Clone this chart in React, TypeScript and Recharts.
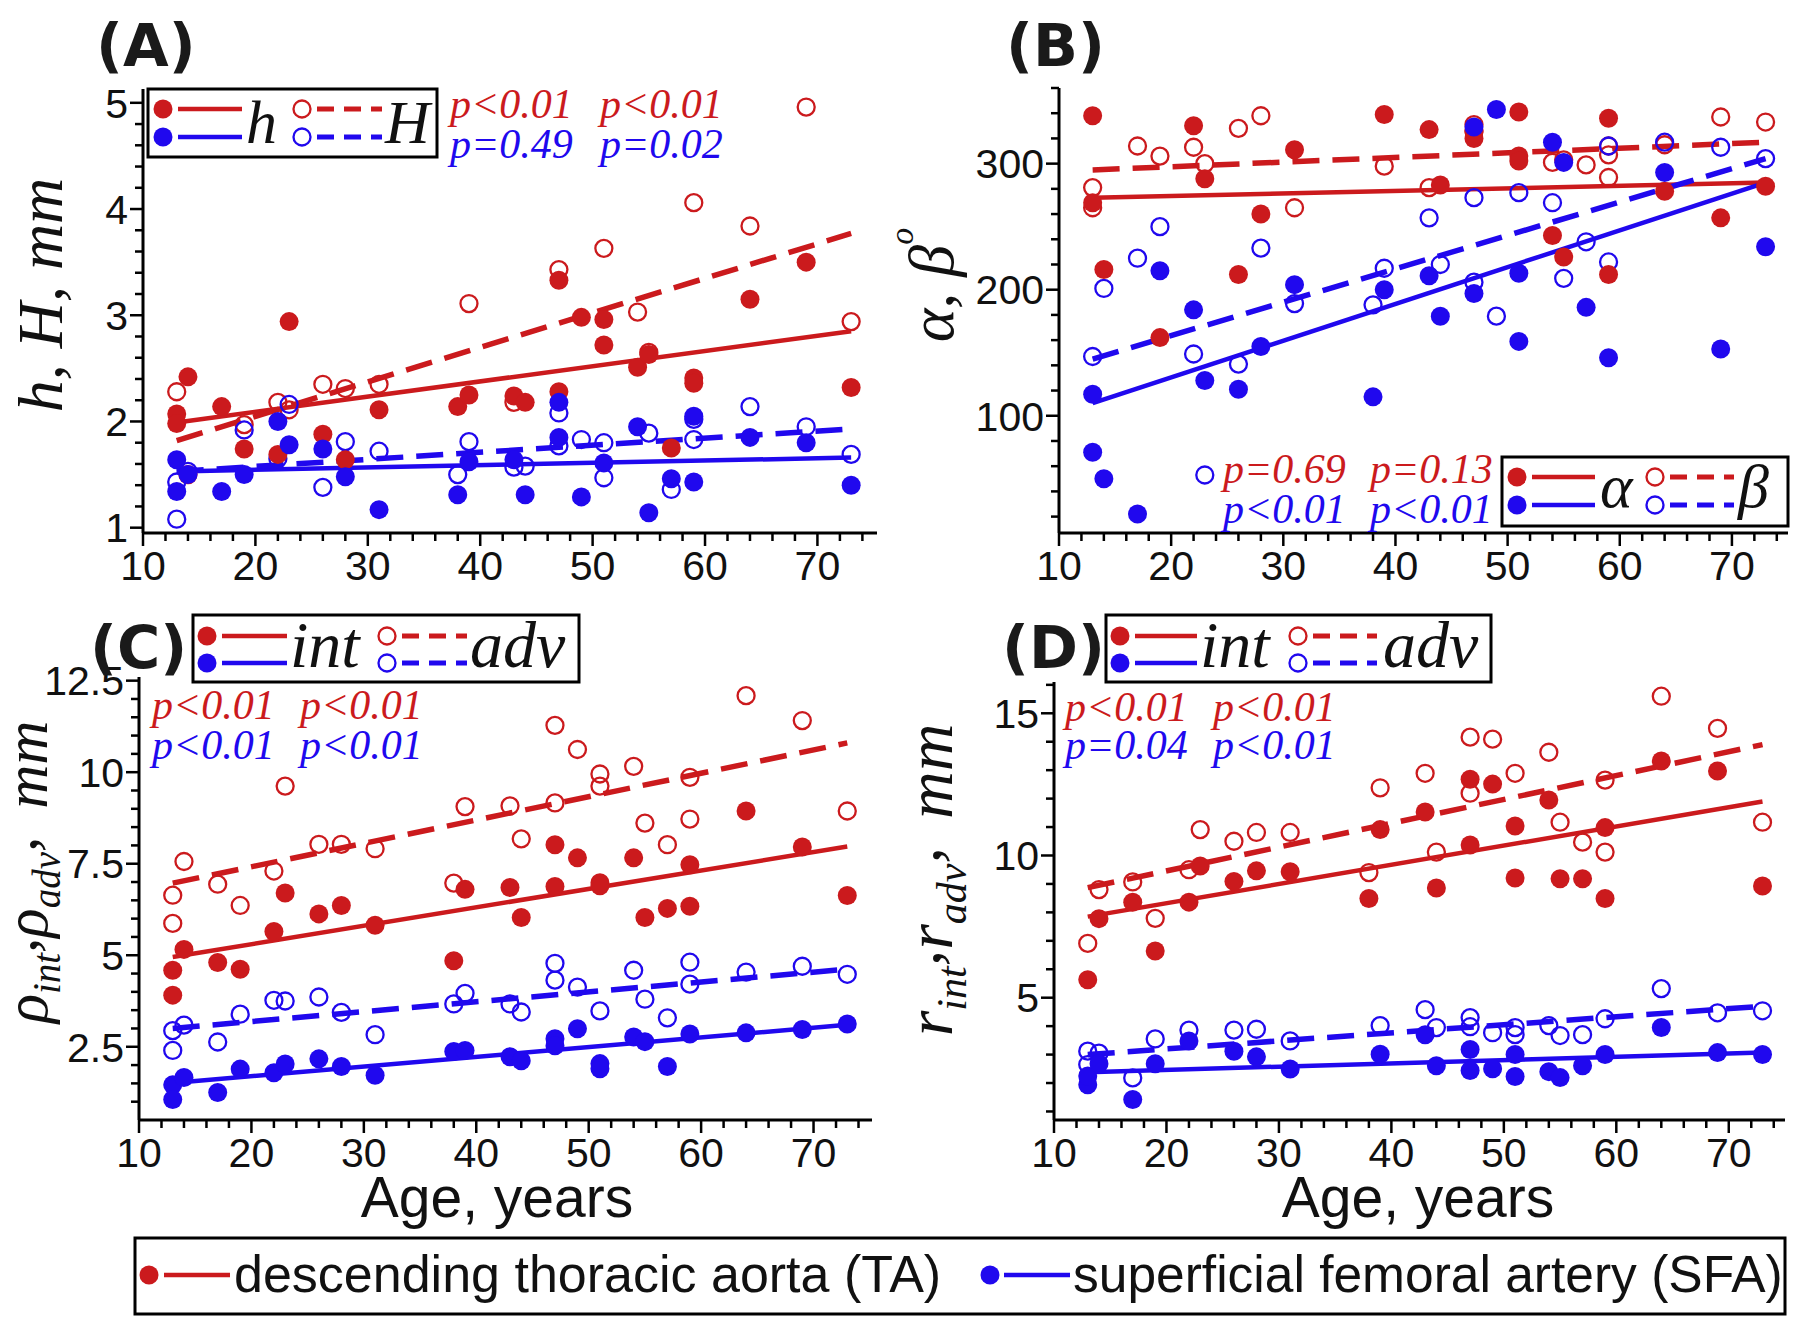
import React from 'react';
import { ScatterChart, Scatter, XAxis, YAxis, ReferenceLine } from 'recharts';

const RED = '#cb1a1d';
const BLUE = '#2008ee';
const SANS = 'Liberation Sans, Arial, sans-serif';
const SERIF = 'Liberation Serif, Times New Roman, serif';

// ---------- ticks ----------
const X_TICKS = [10,12,14,16,18,20,22,24,26,28,30,32,34,36,38,40,42,44,46,48,50,52,54,56,58,60,62,64,66,68,70,72,74];
const X_MAJOR = [10,20,30,40,50,60,70];
const A_Y_TICKS = [1,1.2,1.4,1.6,1.8,2,2.2,2.4,2.6,2.8,3,3.2,3.4,3.6,3.8,4,4.2,4.4,4.6,4.8,5];
const A_Y_MAJOR = [1,2,3,4,5];
const B_Y_TICKS = [20,40,60,80,100,120,140,160,180,200,220,240,260,280,300,320,340,360];
const B_Y_MAJOR = [100,200,300];
const C_Y_TICKS = [1,1.5,2,2.5,3,3.5,4,4.5,5,5.5,6,6.5,7,7.5,8,8.5,9,9.5,10,10.5,11,11.5,12,12.5];
const C_Y_MAJOR = [2.5,5,7.5,10,12.5];
const D_Y_TICKS = [1,2,3,4,5,6,7,8,9,10,11,12,13,14,15,16];
const D_Y_MAJOR = [5,10,15];

// ---------- Panel A: h (filled), H (open) ----------
const A_hTA: [number, number][] = [[13,2.07],[13,1.98],[14,2.42],[17,2.14],[19,1.74],[22,1.69],[23,2.94],[26,1.88],[28,1.64],[31,2.11],[38,2.14],[39,2.25],[43,2.24],[44,2.18],[47,3.33],[47,2.28],[49,2.98],[51,2.96],[51,2.72],[54,2.51],[55,2.63],[57,1.75],[59,2.41],[59,2.36],[64,3.15],[69,3.5],[73,2.32]];
const A_HTA: [number, number][] = [[13,2.28],[14,1.5],[19,1.97],[22,2.18],[23,2.11],[26,2.35],[28,2.31],[31,2.35],[39,3.11],[43,2.18],[47,3.43],[51,3.63],[54,3.03],[55,2.65],[59,4.06],[64,3.84],[69,4.96],[73,2.94]];
const A_hSFA: [number, number][] = [[13,1.64],[13,1.34],[14,1.5],[17,1.34],[19,1.5],[22,2.0],[23,1.78],[26,1.74],[28,1.48],[31,1.17],[38,1.31],[39,1.62],[43,1.64],[44,1.31],[47,2.18],[47,1.85],[49,1.29],[51,1.61],[54,1.95],[55,1.14],[57,1.46],[59,2.05],[59,1.43],[64,1.85],[69,1.8],[73,1.4]];
const A_HSFA: [number, number][] = [[13,1.43],[13,1.08],[14,1.53],[19,1.92],[22,1.65],[23,2.16],[26,1.38],[28,1.81],[31,1.72],[38,1.5],[39,1.81],[43,1.57],[44,1.58],[47,2.08],[47,1.77],[49,1.83],[51,1.8],[51,1.47],[55,1.89],[57,1.36],[59,2.02],[59,1.83],[64,2.14],[69,1.95],[73,1.69]];
const A_FIT_hTA = [1.99, 2.85];
const A_FIT_HTA = [1.82, 3.77];
const A_FIT_hSFA = [1.53, 1.66];
const A_FIT_HSFA = [1.53, 1.93];

// ---------- Panel B: alpha (filled), beta (open) ----------
const B_aTA: [number, number][] = [[13,338],[13,269],[14,216],[19,162],[22,330],[23,288],[26,212],[28,260],[31,311],[39,339],[43,327],[44,283],[47,325],[47,320],[51,341],[51,306],[51,302],[54,243],[55,226],[59,336],[59,212],[64,278],[69,257],[73,282]];
const B_bTA: [number, number][] = [[13,281],[13,265],[17,314],[19,306],[22,313],[23,300],[26,328],[28,338],[31,265],[39,298],[43,281],[47,331],[47,326],[54,301],[55,303],[57,299],[59,314],[59,307],[59,289],[64,315],[69,337],[73,333]];
const B_aSFA: [number, number][] = [[13,117],[13,71],[14,50],[17,22],[19,215],[22,184],[23,128],[26,121],[28,155],[31,204],[38,115],[39,200],[43,211],[44,179],[47,197],[47,329],[49,343],[51,213],[51,159],[54,317],[55,301],[57,186],[59,146],[64,293],[69,153],[73,234]];
const B_bSFA: [number, number][] = [[13,147],[14,201],[17,225],[19,250],[22,149],[23,53],[26,141],[28,233],[31,189],[38,188],[39,217],[43,257],[44,220],[47,273],[47,206],[49,179],[51,277],[54,269],[55,209],[57,238],[59,314],[59,222],[64,317],[69,313],[73,304]];
const B_FIT_aTA = [273, 285];
const B_FIT_bTA = [295, 317];
const B_FIT_aSFA = [110, 285];
const B_FIT_bSFA = [145, 304];

// ---------- Panel C: rho int (filled), rho adv (open) ----------
const C_iTA: [number, number][] = [[13,4.59],[13,3.91],[14,5.16],[17,4.8],[19,4.62],[22,5.65],[23,6.7],[26,6.13],[28,6.36],[31,5.82],[38,4.85],[39,6.8],[43,6.85],[44,6.03],[47,8.02],[47,6.88],[49,7.66],[51,6.98],[51,6.9],[54,7.66],[55,6.03],[57,6.28],[59,7.47],[59,6.34],[64,8.94],[69,7.96],[73,6.63]];
const C_aTA: [number, number][] = [[13,6.64],[13,5.87],[14,7.56],[17,6.94],[19,6.36],[22,7.3],[23,9.62],[26,8.03],[28,8.03],[31,7.91],[38,6.97],[39,9.06],[43,9.08],[44,8.18],[47,11.28],[47,9.16],[49,10.62],[51,9.95],[51,9.62],[54,10.16],[55,8.61],[57,8.02],[59,9.86],[59,8.72],[64,12.09],[69,11.41],[73,8.94]];
const C_iSFA: [number, number][] = [[13,1.46],[13,1.06],[14,1.66],[17,1.25],[19,1.89],[22,1.79],[23,2.03],[26,2.17],[28,1.96],[31,1.72],[38,2.37],[39,2.4],[43,2.23],[44,2.12],[47,2.72],[47,2.53],[49,2.99],[51,2.04],[51,1.9],[54,2.77],[55,2.64],[57,1.96],[59,2.85],[64,2.88],[69,2.97],[73,3.12]];
const C_aSFA: [number, number][] = [[13,2.94],[13,2.4],[14,3.09],[17,2.63],[19,3.39],[22,3.77],[23,3.75],[26,3.86],[28,3.44],[31,2.83],[38,3.67],[39,3.96],[43,3.67],[44,3.45],[47,4.78],[47,4.32],[49,4.13],[51,3.48],[54,4.59],[55,3.8],[57,3.29],[59,4.81],[59,4.21],[64,4.54],[69,4.7],[73,4.48]];
const C_FIT_iTA = [4.95, 7.97];
const C_FIT_aTA = [6.97, 10.8];
const C_FIT_iSFA = [1.51, 3.1];
const C_FIT_aSFA = [3.0, 4.62];

// ---------- Panel D: r int (filled), r adv (open) ----------
const D_iTA: [number, number][] = [[13,5.63],[14,7.78],[17,8.36],[19,6.64],[22,8.36],[23,9.63],[26,9.09],[28,9.46],[31,9.43],[38,8.49],[39,10.91],[43,11.53],[44,8.86],[47,12.68],[47,10.37],[49,12.51],[51,11.04],[51,9.21],[54,11.95],[55,9.18],[57,9.18],[59,10.98],[59,8.49],[64,13.32],[69,12.97],[73,8.93]];
const D_aTA: [number, number][] = [[13,6.91],[14,8.8],[17,9.07],[19,7.79],[22,9.5],[23,10.91],[26,10.5],[28,10.81],[31,10.81],[38,9.4],[39,12.38],[43,12.89],[44,10.12],[47,14.16],[47,12.19],[49,14.09],[51,12.89],[54,13.63],[55,11.17],[57,10.47],[59,12.65],[59,10.12],[64,15.6],[69,14.47],[73,11.17]];
const D_iSFA: [number, number][] = [[13,1.94],[13,2.25],[14,2.68],[17,1.42],[19,2.68],[22,3.48],[26,3.12],[28,2.92],[31,2.49],[39,3.01],[43,3.7],[44,2.61],[47,3.18],[47,2.44],[49,2.5],[51,3.0],[51,2.23],[54,2.4],[55,2.19],[57,2.61],[59,3.0],[64,3.95],[69,3.07],[73,3.0]];
const D_aSFA: [number, number][] = [[13,3.12],[13,2.65],[14,3.05],[17,2.18],[19,3.55],[22,3.86],[26,3.86],[28,3.89],[31,3.48],[39,4.02],[43,4.58],[44,3.95],[47,4.3],[47,3.98],[49,3.77],[51,3.95],[51,3.7],[54,4.02],[55,3.67],[57,3.7],[59,4.26],[64,5.32],[69,4.47],[73,4.54]];
const D_FIT_iTA = [7.85, 11.9];
const D_FIT_aTA = [8.87, 13.9];
const D_FIT_iSFA = [2.38, 3.07];
const D_FIT_aSFA = [3.0, 4.7];

const FIT_AGES = [13, 73];

type Pt = [number, number];
type Series = { data: Pt[]; color: string; open: boolean };
type Fit = { y: number[]; color: string; dashed: boolean };

const XTick = (props: any) => {
  const { x, y, payload, major } = props;
  const isMajor = major.includes(payload.value);
  return (
    <g>
      <line x1={x} x2={x} y1={y} y2={y + (isMajor ? 13 : 8)} stroke="#000" strokeWidth={2.5} />
      {isMajor && (
        <text x={x} y={y + 47} textAnchor="middle" fontSize={41} fontFamily={SANS} fill="#111">
          {payload.value}
        </text>
      )}
    </g>
  );
};

const YTick = (props: any) => {
  const { x, y, payload, major } = props;
  const isMajor = major.includes(payload.value);
  return (
    <g>
      <line x1={x} x2={x - (isMajor ? 13 : 8)} y1={y} y2={y} stroke="#000" strokeWidth={2.5} />
      {isMajor && (
        <text x={x - 15} y={y} dy="0.36em" textAnchor="end" fontSize={41} fontFamily={SANS} fill="#111">
          {payload.value}
        </text>
      )}
    </g>
  );
};

const makeShape = (color: string, open: boolean) => (p: any) =>
  open ? (
    <circle cx={p.cx} cy={p.cy} r={8.5} fill="none" stroke={color} strokeWidth={2.3} />
  ) : (
    <circle cx={p.cx} cy={p.cy} r={9.5} fill={color} />
  );

function Panel(props: {
  box: { left: number; top: number; right: number; bottom: number };
  xDomain: [number, number];
  yDomain: [number, number];
  yTicks: number[];
  yMajor: number[];
  series: Series[];
  fits: Fit[];
}) {
  const { box, xDomain, yDomain, yTicks, yMajor, series, fits } = props;
  const ML = 140, MT = 30, MR = 10, MB = 70;
  const W = box.right - box.left;
  const H = box.bottom - box.top;
  return (
    <div style={{ position: 'absolute', left: box.left - ML, top: box.top - MT }}>
      <ScatterChart width={W + ML + MR} height={H + MT + MB} margin={{ top: MT, right: MR, bottom: 0, left: 0 }}>
        <XAxis
          type="number"
          dataKey="x"
          domain={xDomain}
          ticks={X_TICKS}
          interval={0}
          tickSize={0}
          tickMargin={0}
          tickLine={false}
          height={MB}
          axisLine={{ stroke: '#000', strokeWidth: 3 }}
          tick={(tp: any) => <XTick {...tp} major={X_MAJOR} />}
        />
        <YAxis
          type="number"
          dataKey="y"
          domain={yDomain}
          ticks={yTicks}
          interval={0}
          tickSize={0}
          tickMargin={0}
          tickLine={false}
          width={ML}
          axisLine={{ stroke: '#000', strokeWidth: 3 }}
          tick={(tp: any) => <YTick {...tp} major={yMajor} />}
        />
        {fits.map((f, i) => (
          <ReferenceLine
            key={'f' + i}
            segment={[{ x: FIT_AGES[0], y: f.y[0] }, { x: FIT_AGES[1], y: f.y[1] }]}
            stroke={f.color}
            strokeWidth={f.dashed ? 5.5 : 4.5}
            strokeDasharray={f.dashed ? '27 13' : undefined}
            ifOverflow="visible"
          />
        ))}
        {series.map((s, i) => (
          <Scatter
            key={'s' + i}
            data={s.data.map(([x, y]) => ({ x, y }))}
            shape={makeShape(s.color, s.open)}
            isAnimationActive={false}
          />
        ))}
      </ScatterChart>
    </div>
  );
}

function BoxLegend(p: {
  bx: number; by: number; bw: number; bh: number; r1: number; r2: number;
  dotX: number; l1: [number, number]; t1x: number; openX: number; l2: [number, number]; t2x: number;
  base: number; fs: number; t1: string; t2: string;
}) {
  const rows: [number, string][] = [[p.r1, RED], [p.r2, BLUE]];
  return (
    <g>
      <rect x={p.bx} y={p.by} width={p.bw} height={p.bh} fill="#fff" stroke="#000" strokeWidth={3} />
      {rows.map(([ry, c]) => (
        <g key={c}>
          <circle cx={p.dotX} cy={ry} r={9.5} fill={c} />
          <line x1={p.l1[0]} x2={p.l1[1]} y1={ry} y2={ry} stroke={c} strokeWidth={4.5} />
          <circle cx={p.openX} cy={ry} r={8.5} fill="none" stroke={c} strokeWidth={2.3} />
          <line x1={p.l2[0]} x2={p.l2[1]} y1={ry} y2={ry} stroke={c} strokeWidth={5} strokeDasharray="17 10" />
        </g>
      ))}
      <text x={p.t1x} y={p.base} fontSize={p.fs} fontStyle="italic" fontFamily={SERIF} fill="#111">{p.t1}</text>
      <text x={p.t2x} y={p.base} fontSize={p.fs} fontStyle="italic" fontFamily={SERIF} fill="#111">{p.t2}</text>
    </g>
  );
}

const PText = ({ x, y, c, t }: { x: number; y: number; c: string; t: string }) => (
  <text x={x} y={y} fontSize={42} fontStyle="italic" fontFamily={SERIF} fill={c}>{t}</text>
);

const LETTER = 'DejaVu Sans, Liberation Sans, sans-serif';

export default function App() {
  return (
    <div style={{ position: 'absolute', left: 0, top: 0, width: 1800, height: 1324, background: '#fff', overflow: 'hidden' }}>
      <Panel
        box={{ left: 143, top: 89, right: 877, bottom: 533 }}
        xDomain={[10, 75.3]}
        yDomain={[0.95, 5.13]}
        yTicks={A_Y_TICKS}
        yMajor={A_Y_MAJOR}
        fits={[
          { y: A_FIT_hTA, color: RED, dashed: false },
          { y: A_FIT_HTA, color: RED, dashed: true },
          { y: A_FIT_hSFA, color: BLUE, dashed: false },
          { y: A_FIT_HSFA, color: BLUE, dashed: true },
        ]}
        series={[
          { data: A_HTA, color: RED, open: true },
          { data: A_HSFA, color: BLUE, open: true },
          { data: A_hTA, color: RED, open: false },
          { data: A_hSFA, color: BLUE, open: false },
        ]}
      />
      <Panel
        box={{ left: 1059, top: 88, right: 1788, bottom: 533 }}
        xDomain={[10, 75]}
        yDomain={[7, 360]}
        yTicks={B_Y_TICKS}
        yMajor={B_Y_MAJOR}
        fits={[
          { y: B_FIT_aTA, color: RED, dashed: false },
          { y: B_FIT_bTA, color: RED, dashed: true },
          { y: B_FIT_aSFA, color: BLUE, dashed: false },
          { y: B_FIT_bSFA, color: BLUE, dashed: true },
        ]}
        series={[
          { data: B_bTA, color: RED, open: true },
          { data: B_bSFA, color: BLUE, open: true },
          { data: B_aTA, color: RED, open: false },
          { data: B_aSFA, color: BLUE, open: false },
        ]}
      />
      <Panel
        box={{ left: 139, top: 677, right: 872, bottom: 1120 }}
        xDomain={[10, 75.2]}
        yDomain={[0.5, 12.6]}
        yTicks={C_Y_TICKS}
        yMajor={C_Y_MAJOR}
        fits={[
          { y: C_FIT_iTA, color: RED, dashed: false },
          { y: C_FIT_aTA, color: RED, dashed: true },
          { y: C_FIT_iSFA, color: BLUE, dashed: false },
          { y: C_FIT_aSFA, color: BLUE, dashed: true },
        ]}
        series={[
          { data: C_aTA, color: RED, open: true },
          { data: C_aSFA, color: BLUE, open: true },
          { data: C_iTA, color: RED, open: false },
          { data: C_iSFA, color: BLUE, open: false },
        ]}
      />
      <Panel
        box={{ left: 1054, top: 682, right: 1785, bottom: 1120 }}
        xDomain={[10, 75]}
        yDomain={[0.7, 16.1]}
        yTicks={D_Y_TICKS}
        yMajor={D_Y_MAJOR}
        fits={[
          { y: D_FIT_iTA, color: RED, dashed: false },
          { y: D_FIT_aTA, color: RED, dashed: true },
          { y: D_FIT_iSFA, color: BLUE, dashed: false },
          { y: D_FIT_aSFA, color: BLUE, dashed: true },
        ]}
        series={[
          { data: D_aTA, color: RED, open: true },
          { data: D_aSFA, color: BLUE, open: true },
          { data: D_iTA, color: RED, open: false },
          { data: D_iSFA, color: BLUE, open: false },
        ]}
      />

      <svg width={1800} height={1324} style={{ position: 'absolute', left: 0, top: 0, pointerEvents: 'none' }}>
        {/* panel letters */}
        <text x={96} y={66} fontSize={59} fontWeight="bold" fontFamily={LETTER} fill="#1a1a1a">(A)</text>
        <text x={1006} y={66} fontSize={59} fontWeight="bold" fontFamily={LETTER} fill="#1a1a1a">(B)</text>
        <text x={90} y={668} fontSize={59} fontWeight="bold" fontFamily={LETTER} fill="#1a1a1a">(C)</text>
        <text x={1002} y={668} fontSize={59} fontWeight="bold" fontFamily={LETTER} fill="#1a1a1a">(D)</text>

        {/* y axis titles */}
        <text transform="translate(62,295) rotate(-90)" textAnchor="middle" fontSize={64} fontStyle="italic" fontFamily={SERIF} fill="#111">h, H, mm</text>
        <text transform="translate(953,285) rotate(-90)" textAnchor="middle" fontSize={64} fontStyle="italic" fontFamily={SERIF} fill="#111">
          α, β<tspan dy={-40} fontSize={34}>o</tspan>
        </text>
        <text transform="translate(47,872) rotate(-90)" textAnchor="middle" fontSize={61} fontStyle="italic" fontFamily={SERIF} fill="#111">
          ρ<tspan fontSize={39} dy={13}>int</tspan><tspan dy={-24}>,</tspan><tspan dy={11}>ρ</tspan><tspan fontSize={39} dy={13}>adv</tspan><tspan dy={-24}>,</tspan><tspan dy={11} dx={28}>mm</tspan>
        </text>
        <text transform="translate(952,880) rotate(-90)" textAnchor="middle" fontSize={66} fontStyle="italic" fontFamily={SERIF} fill="#111">
          r<tspan fontSize={42} dy={14}>int</tspan><tspan dy={-26}>,</tspan><tspan dy={12}>r</tspan><tspan fontSize={42} dy={14}>adv</tspan><tspan dy={-26}>,</tspan><tspan dy={12} dx={28}>mm</tspan>
        </text>

        {/* x axis titles */}
        <text x={497} y={1217} textAnchor="middle" fontSize={57} fontFamily={SANS} fill="#111">Age, years</text>
        <text x={1418} y={1217} textAnchor="middle" fontSize={57} fontFamily={SANS} fill="#111">Age, years</text>

        {/* panel legends */}
        <BoxLegend bx={148} by={89} bw={289} bh={68} r1={109} r2={137} dotX={163} l1={[178, 242]} t1x={246}
          openX={302} l2={[317, 382]} t2x={385} base={143} fs={62} t1="h" t2="H" />
        <BoxLegend bx={1502} by={457} bw={286} bh={69} r1={477} r2={505} dotX={1517} l1={[1532, 1595]} t1x={1600}
          openX={1655} l2={[1670, 1734]} t2x={1738} base={507} fs={62} t1="α" t2="β" />
        <BoxLegend bx={193} by={615} bw={386} bh={67} r1={636} r2={663} dotX={207} l1={[222, 287]} t1x={290}
          openX={387} l2={[402, 467]} t2x={470} base={667} fs={66} t1="int" t2="adv" />
        <BoxLegend bx={1106} by={615} bw={385} bh={67} r1={636} r2={663} dotX={1120} l1={[1135, 1197]} t1x={1200}
          openX={1298} l2={[1313, 1377]} t2x={1383} base={667} fs={66} t1="int" t2="adv" />

        {/* p values */}
        <PText x={450} y={118} c={RED} t="p<0.01" />
        <PText x={600} y={118} c={RED} t="p<0.01" />
        <PText x={450} y={158} c={BLUE} t="p=0.49" />
        <PText x={600} y={158} c={BLUE} t="p=0.02" />

        <PText x={1223} y={483} c={RED} t="p=0.69" />
        <PText x={1370} y={483} c={RED} t="p=0.13" />
        <PText x={1223} y={523} c={BLUE} t="p<0.01" />
        <PText x={1370} y={523} c={BLUE} t="p<0.01" />

        <PText x={152} y={719} c={RED} t="p<0.01" />
        <PText x={300} y={719} c={RED} t="p<0.01" />
        <PText x={152} y={759} c={BLUE} t="p<0.01" />
        <PText x={300} y={759} c={BLUE} t="p<0.01" />

        <PText x={1065} y={721} c={RED} t="p<0.01" />
        <PText x={1213} y={721} c={RED} t="p<0.01" />
        <PText x={1065} y={759} c={BLUE} t="p=0.04" />
        <PText x={1213} y={759} c={BLUE} t="p<0.01" />

        {/* bottom legend */}
        <rect x={135} y={1238} width={1650} height={76} fill="#fff" stroke="#000" strokeWidth={3} />
        <circle cx={149} cy={1275} r={9.5} fill={RED} />
        <line x1={164} x2={230} y1={1275} y2={1275} stroke={RED} strokeWidth={4.5} />
        <text x={234} y={1292} fontSize={52} fontFamily={SANS} fill="#111">descending thoracic aorta (TA)</text>
        <circle cx={990} cy={1275} r={9.5} fill={BLUE} />
        <line x1={1004} x2={1070} y1={1275} y2={1275} stroke={BLUE} strokeWidth={4.5} />
        <text x={1073} y={1292} fontSize={51.5} fontFamily={SANS} fill="#111">superficial femoral artery (SFA)</text>
      </svg>
    </div>
  );
}
